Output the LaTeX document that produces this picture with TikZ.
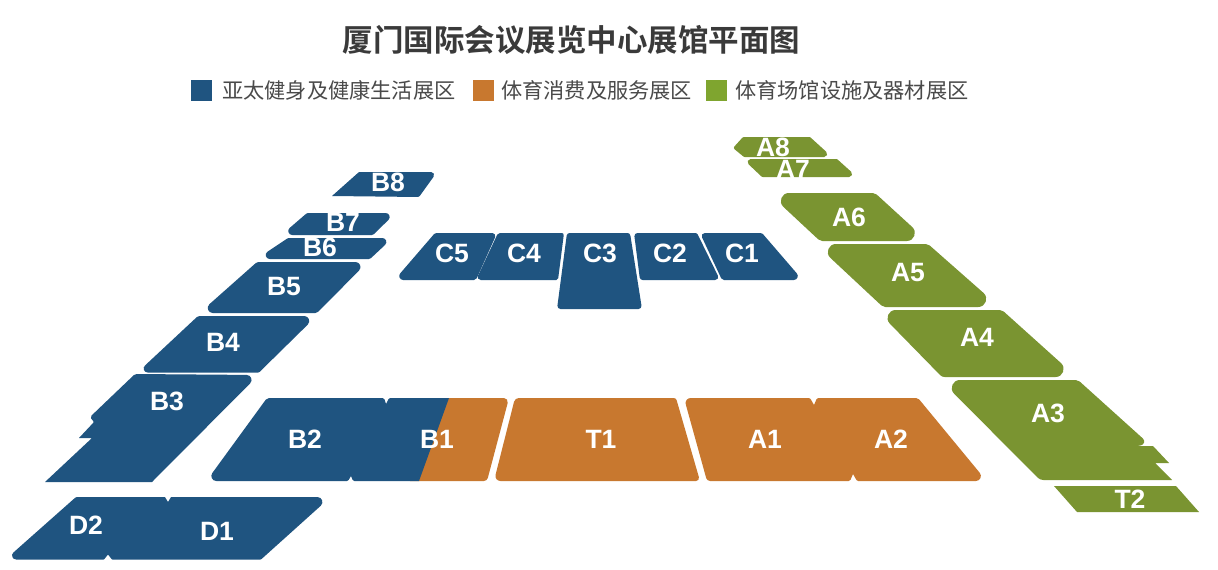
\documentclass[tikz,border=0pt]{standalone}
\usepackage{fontspec}
\newfontfamily\cjkbold{Noto Sans CJK SC Bold}
\newfontfamily\cjkreg{Noto Sans CJK SC}
\setmainfont{Liberation Sans}
\definecolor{hallblue}{HTML}{1F5480}
\definecolor{hallorange}{HTML}{C8782F}
\definecolor{hallgreen}{HTML}{7A9431}
\definecolor{keygreen}{HTML}{7FA52F}
\definecolor{titlegrey}{HTML}{3A3A3A}
\definecolor{keygrey}{HTML}{4A4A4A}
\tikzset{
  hall label/.style={text=white,font=\fontsize{26.5}{26.5}\selectfont\bfseries,inner sep=0pt},
  key text/.style={text=keygrey,font=\fontsize{21.2}{22}\cjkreg,anchor=west,inner sep=0pt},
  key box/.style={minimum width=21pt,minimum height=21pt,inner sep=0pt,anchor=north west}
}
% polygon with a true circular fillet at each vertex: x/y/radius
\newcount\hallcount
\newcommand{\hallshape}[2]{%
  \global\hallcount=0
  \foreach \hpx/\hpy/\hpr in {#2}{%
    \global\advance\hallcount by 1
    \expandafter\xdef\csname hallx\the\hallcount\endcsname{\hpx}%
    \expandafter\xdef\csname hally\the\hallcount\endcsname{\hpy}%
    \expandafter\xdef\csname hallr\the\hallcount\endcsname{\hpr}%
  }%
  \edef\hallN{\the\hallcount}%
  \gdef\hallpath{}%
  \foreach \hi in {1,...,\hallN}{%
    \pgfmathtruncatemacro\hprev{mod(\hi-2+\hallN,\hallN)+1}%
    \pgfmathtruncatemacro\hnext{mod(\hi,\hallN)+1}%
    \edef\Vx{\csname hallx\hi\endcsname}%
    \edef\Vy{\csname hally\hi\endcsname}%
    \edef\Vr{\csname hallr\hi\endcsname}%
    \pgfmathsetmacro\uax{\csname hallx\hprev\endcsname-\Vx}%
    \pgfmathsetmacro\uay{\csname hally\hprev\endcsname-\Vy}%
    \pgfmathsetmacro\ual{veclen(\uax,\uay)}%
    \pgfmathsetmacro\uax{\uax/\ual}%
    \pgfmathsetmacro\uay{\uay/\ual}%
    \pgfmathsetmacro\ubx{\csname hallx\hnext\endcsname-\Vx}%
    \pgfmathsetmacro\uby{\csname hally\hnext\endcsname-\Vy}%
    \pgfmathsetmacro\ubl{veclen(\ubx,\uby)}%
    \pgfmathsetmacro\ubx{\ubx/\ubl}%
    \pgfmathsetmacro\uby{\uby/\ubl}%
    \pgfmathsetmacro\hang{acos(max(-1,min(1,\uax*\ubx+\uay*\uby)))}%
    \pgfmathsetmacro\hcut{\Vr/tan(\hang/2)}%
    \pgfmathsetmacro\hhan{4/3*tan((180-\hang)/4)*\Vr}%
    \pgfmathsetmacro\Ax{\Vx+\hcut*\uax}%
    \pgfmathsetmacro\Ay{\Vy+\hcut*\uay}%
    \pgfmathsetmacro\Bx{\Vx+\hcut*\ubx}%
    \pgfmathsetmacro\By{\Vy+\hcut*\uby}%
    \pgfmathsetmacro\Cax{\Ax-\hhan*\uax}%
    \pgfmathsetmacro\Cay{\Ay-\hhan*\uay}%
    \pgfmathsetmacro\Cbx{\Bx-\hhan*\ubx}%
    \pgfmathsetmacro\Cby{\By-\hhan*\uby}%
    \xdef\hallpath{\hallpath (\Ax,\Ay) .. controls (\Cax,\Cay) and (\Cbx,\Cby) .. (\Bx,\By) -- }%
  }%
  \edef\hallrun{\noexpand\fill[#1] \hallpath cycle;}%
  \hallrun
}
\begin{document}
\begin{tikzpicture}[x=1pt,y=-1pt]
\useasboundingbox (0,0) rectangle (1218,570);
\fill[white] (0,0) rectangle (1218,570);
% title and legend
\node[text=titlegrey,font=\fontsize{30.5}{32}\cjkbold,inner sep=0pt] (title) at (571.5,40) {厦门国际会议展览中心展馆平面图};
\node[key box,fill=hallblue] (k1) at (191,80) {};
\node[key text] (k1t) at (222,90.5) {亚太健身及健康生活展区};
\node[key box,fill=hallorange] (k2) at (472.5,80) {};
\node[key text] (k2t) at (501,90.5) {体育消费及服务展区};
\node[key box,fill=keygreen] (k3) at (706,80) {};
\node[key text] (k3t) at (735,90.5) {体育场馆设施及器材展区};
% west wing
\hallshape{hallblue}{359/172/2,437/172/3,419/197/2,332/196/0}
\hallshape{hallblue}{307/213/3,395.5/213/4,373/235/3,281.5/235/4}
\hallshape{hallblue}{288/238/3,392.5/238/4,370/259/3,256.5/259/4}
\hallshape{hallblue}{257/262/4,367.5/262/5,317/313/4,199.5/313/5}
\hallshape{hallblue}{198/316/4,316.5/316/5,259/372.5/2,137.5/372.5/4}
\hallshape{hallblue}{135/374/4,258.5/375/5,152/482/0,45/482/0,92/438/0,79/438/0,94/422/1,90/417/2}
% D halls
\hallshape{hallblue}{76/497/3,165/497/1,168/502/0,171/497/1,330.5/497/5,261/559.5/2,112/559.5/1,108/554.5/0,104/559.5/1,5.5/559.5/4}
% south row
\hallshape{hallorange}{440/398/0,509/398/4,487/481/4,410/481/0}
\hallshape{hallblue}{267/398/4,384/398/2,386/404/0,389/398/2,449/398/0,419/481/0,353/481/2,351/476/0,348/481/2,206.5/481/5}
\hallshape{hallorange}{515/398/5,676/398/3,700/481/3,494/481/5}
\hallshape{hallorange}{684/398/5,810/398/2,814/405/0,817/398/2,918/398/4,986.5/481/5,857/481/2,853/474/0,850/481/2,707/481/4}
% C row
\hallshape{hallblue}{435/233/3,497/233/3,476/280/3,394.5/280/4}
\hallshape{hallblue}{498/233/3,564/233/2,558/280/2,476/280/3}
\hallshape{hallblue}{567/233/3,630/233/3,642/309/3,557/309/3}
\hallshape{hallblue}{634/233/3,697/233/2,720/280/3,640/280/3}
\hallshape{hallblue}{700/233/3,762/233/3,802.5/280/4,722/280/3}
% east wing
\hallshape{hallgreen}{743/137/2,810/137/2,832/157/3,744/157/2,733/148/2}
\hallshape{hallgreen}{743/159/3,837/159/2,857/177/3,762/177/2}
\hallshape{hallgreen}{768.5/193/8,875/193/6,927.5/241/8,820/241/6}
\hallshape{hallgreen}{815.5/244/8,928/244/6,999.5/307/8,883/307/6}
\hallshape{hallgreen}{876.5/310/8,1002/310/6,1076.5/377/8,942/377/6}
\hallshape{hallgreen}{940.5/380/8,1078/380/6,1149/444/4,1137/446/0,1153/446/0,1169/463/0,1155/463/0,1172/480/0,1040/480/8}
\hallshape{hallgreen}{1054/486/0,1176/486/0,1199/512/0,1077/512/0}
% labels
\node[hall label] (B8) at (388,182) {B8};
\node[hall label] (B7) at (343,222) {B7};
\node[hall label] (B6) at (320,247) {B6};
\node[hall label] (B5) at (284,287) {B5};
\node[hall label] (B4) at (223,342) {B4};
\node[hall label] (B3) at (167,401) {B3};
\node[hall label] (B2) at (305,439) {B2};
\node[hall label] (B1) at (437,439) {B1};
\node[hall label] (D2) at (86,525) {D2};
\node[hall label] (D1) at (217,531) {D1};
\node[hall label] (C5) at (452,253) {C5};
\node[hall label] (C4) at (524,253) {C4};
\node[hall label] (C3) at (600,253) {C3};
\node[hall label] (C2) at (670,253) {C2};
\node[hall label] (C1) at (742,253) {C1};
\node[hall label] (T1) at (601,439) {T1};
\node[hall label] (A1) at (765,439) {A1};
\node[hall label] (A2) at (891,439) {A2};
\node[hall label] (A3) at (1048,413) {A3};
\node[hall label] (A4) at (977,337) {A4};
\node[hall label] (A5) at (908,273) {A5};
\node[hall label] (A6) at (849,217) {A6};
\node[hall label] (A7) at (793,169) {A7};
\node[hall label] (A8) at (773,147) {A8};
\node[hall label] (T2) at (1130,499) {T2};
\end{tikzpicture}
\end{document}
